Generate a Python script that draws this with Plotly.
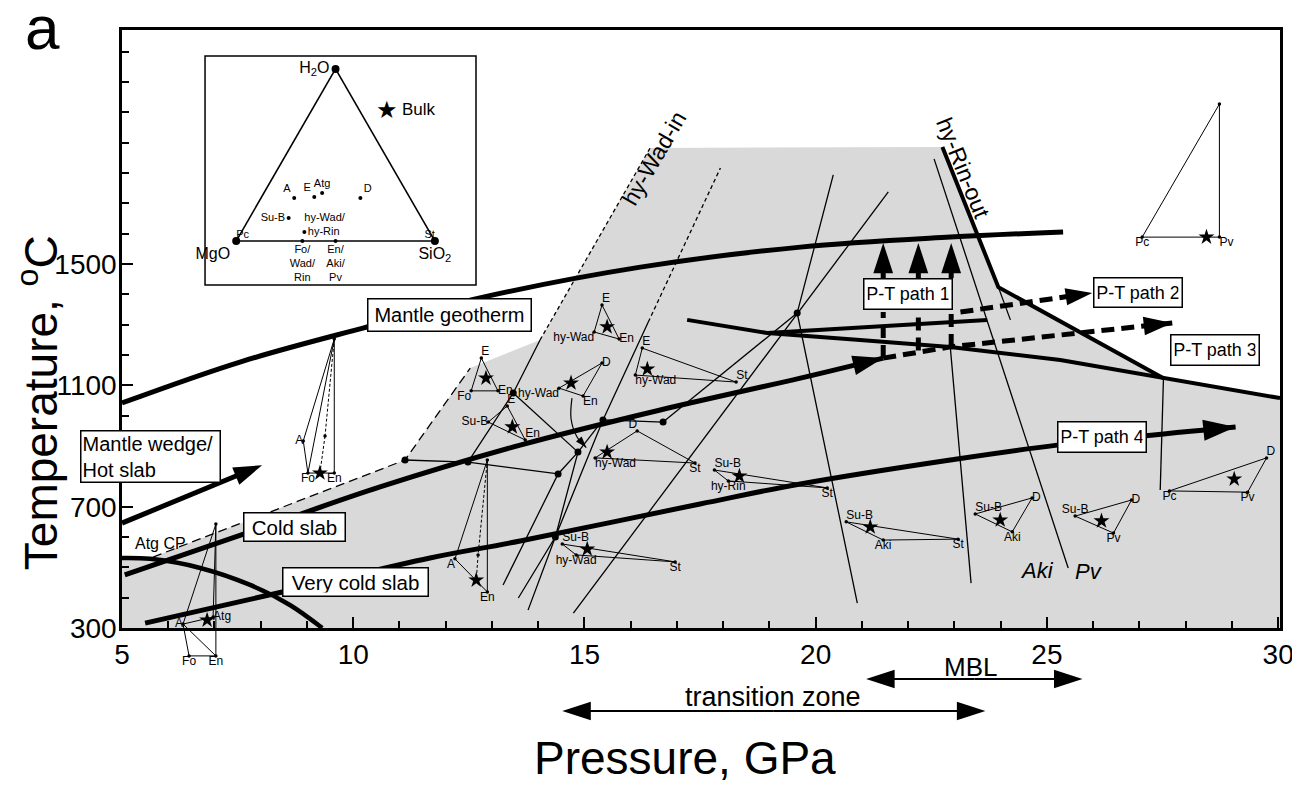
import plotly.graph_objects as go

FONT = "Liberation Sans, Arial, Helvetica, sans-serif"
BLACK = "black"
GRAY = "#d9d9d9"

# ---------------- axes ----------------
P_RANGE = [5.0, 30.04]
T_RANGE = [300.0, 2272.0]
X_TICK0, X_DTICK, X_MINOR = 5, 5, 1
Y_TICKS = [300, 700, 1100, 1500]
Y_MINOR_STEP = 100

# ---------------- grey stability field ----------------
field_P = [5.0, 5.0, 5.67, 11.12, 12.53, 14.04, 16.42, 22.74, 23.95, 27.52, 30.04, 30.04]
field_T = [300, 531, 534, 854, 1157, 1250, 1883, 1886, 1424, 1124, 1058, 300]

# ---------------- thick curves ----------------
geotherm_P = [5.0, 7.55, 10.21, 12.81, 16.21, 19.67, 22.91, 25.35]
geotherm_T = [1042, 1177, 1289, 1391, 1490, 1556, 1589, 1606]
wedge_P = [5.0, 8.03]
wedge_T = [646, 837]
cold_P = [5.06, 7.77, 10.58, 13.61, 16.64, 19.67, 21.46]
cold_T = [475, 617, 765, 903, 1019, 1124, 1190]
vcold_P = [5.50, 8.85, 11.66, 13.61, 17.50, 19.67, 22.91, 25.22, 29.08]
vcold_T = [316, 432, 531, 587, 709, 775, 854, 903, 963]
atgcp_P = [5.0, 5.61, 6.69, 7.77, 8.63, 9.33]
atgcp_T = [531, 528, 498, 442, 376, 300]
lineA_P = [17.22, 18.95, 20.96, 22.91, 25.29, 27.52, 30.04]
lineA_T = [1316, 1273, 1250, 1227, 1184, 1124, 1058]
lineB_P = [18.95, 23.71]
lineB_T = [1273, 1316]
rinout_P = [22.74, 23.95, 27.52]
rinout_T = [1886, 1424, 1124]

# P-T paths
path1_P = [21.46, 22.22, 22.93]
path1_start_T = [1190, 1215, 1227]
path1_box_bottom_T = 1342
path1_box_top_T = 1454
path1_tip_T = 1570
path2_P = [23.13, 25.98]
path2_T = [1342, 1405]
path3_P = [21.46, 22.91, 27.71]
path3_T = [1190, 1227, 1306]

# ---------------- thin phase boundaries ----------------
solid_lines = [
    ([12.48, 13.46, 14.04], [847, 1075, 1250]),
    ([16.38, 15.40, 14.37, 13.78], [1309, 986, 600, 359]),
    ([14.76, 21.57], [349, 1738]),
    ([20.38, 19.60, 20.90], [1794, 1339, 382]),
    ([19.60, 16.70], [1339, 979]),
    ([15.40, 16.70], [986, 979]),
    ([11.12, 12.48, 14.43], [854, 847, 808]),
    ([13.24, 14.43, 14.86], [442, 808, 880]),
    ([13.57, 14.37, 14.86], [399, 600, 880]),
    ([13.46, 14.86], [1075, 880]),
    ([14.86, 15.40], [880, 986]),
    ([22.56, 25.46], [1847, 498]),
    ([22.91, 23.36], [1227, 448]),
    ([23.95, 24.21], [1424, 1316]),
    ([27.52, 27.45], [1124, 755]),
]
atg_dash_P = [5.67, 11.12, 12.53]
atg_dash_T = [534, 854, 1157]
short_dash_lines = [
    ([14.04, 16.42], [1250, 1883]),
    ([16.38, 17.94], [1309, 1817]),
]
inv_P = [11.12, 12.48, 13.46, 14.43, 14.86, 15.40, 16.70, 14.37, 19.60]
inv_T = [854, 847, 1075, 808, 880, 986, 979, 600, 1339]

curl_P = [14.73, 14.71, 14.84, 15.04]
curl_T = [1058, 990, 930, 895]

# ---------------- mini composition diagrams (P, T of vertices) ----------------
mini = [
    dict(ax="y2", pts={"top": (7.03, 643), "A": (6.32, 313), "Fo": (6.45, 208), "En": (7.03, 208), "Atg": (6.97, 336)},
         star=(6.84, 326),
         edges=[("top", "A"), ("top", "Atg"), ("top", "En"), ("A", "Fo"), ("A", "En"), ("Fo", "En"), ("A", "Atg")],
         dashed=[], lab={"A": "middle left", "Atg": "middle right", "Fo": "bottom center", "En": "bottom center"}),
    dict(pts={"top": (9.59, 1253), "A": (8.92, 917), "Fo": (9.02, 811), "En": (9.59, 811), "m": (9.39, 933)},
         star=(9.28, 811),
         edges=[("top", "A"), ("top", "Fo"), ("top", "En"), ("A", "Fo"), ("Fo", "En")],
         dashed=[("top", "m"), ("m", "star")], lab={"A": "middle left", "Fo": "bottom center", "En": "bottom center"}),
    dict(pts={"E": (12.77, 1190), "Fo": (12.55, 1082), "En": (13.13, 1082)}, star=(12.87, 1124),
         lab={"E": "top right", "Fo": "bottom left", "En": "middle right"}),
    dict(pts={"E": (13.33, 1032), "Su-B": (12.92, 979), "En": (13.72, 920)}, star=(13.44, 963),
         lab={"E": "top right", "Su-B": "middle left", "En": "top right"}),
    dict(pts={"E": (15.38, 1365), "hy-Wad": (15.21, 1276), "En": (15.75, 1253)}, star=(15.49, 1293),
         lab={"E": "top right", "hy-Wad": "bottom left", "En": "middle right"}),
    dict(pts={"D": (15.38, 1174), "hy-Wad": (14.45, 1091), "En": (14.97, 1065)}, star=(14.71, 1108),
         lab={"D": "middle right", "hy-Wad": "bottom left", "En": "bottom right"}),
    dict(pts={"E": (16.25, 1223), "hy-Wad": (16.10, 1134), "St": (18.28, 1111)}, star=(16.36, 1154),
         lab={"E": "top right", "hy-Wad": "bottom right", "St": "top right"}),
    dict(pts={"D": (16.14, 950), "hy-Wad": (15.23, 861), "St": (17.39, 844)}, star=(15.49, 880),
         lab={"D": "top left", "hy-Wad": "bottom right", "St": "bottom center"}),
    dict(pts={"Su-B": (17.81, 821), "hy-Rin": (18.11, 785), "St": (20.25, 762)}, star=(18.35, 801),
         lab={"Su-B": "top right", "hy-Rin": "bottom center", "St": "bottom center"}),
    dict(pts={"Su-B": (14.52, 577), "hy-Wad": (14.82, 541), "St": (16.96, 518)}, star=(15.06, 560),
         lab={"Su-B": "top right", "hy-Wad": "bottom center", "St": "bottom center"}),
    dict(pts={"top": (12.90, 854), "A": (12.20, 528), "En": (12.90, 419), "m": (12.70, 541)}, star=(12.66, 458),
         edges=[("top", "A"), ("top", "En"), ("A", "En")],
         dashed=[("top", "m"), ("m", "star")], lab={"A": "bottom left", "En": "bottom center"}),
    dict(pts={"Su-B": (20.66, 650), "Aki": (21.46, 590), "St": (23.08, 593)}, star=(21.18, 633),
         lab={"Su-B": "top right", "Aki": "bottom center", "St": "bottom center"}),
    dict(pts={"Su-B": (23.45, 676), "D": (24.68, 729), "Aki": (24.25, 617)}, star=(23.99, 656),
         lab={"Su-B": "top right", "D": "middle right", "Aki": "bottom center"}),
    dict(pts={"Su-B": (25.61, 669), "D": (26.83, 722), "Pv": (26.44, 613)}, star=(26.18, 653),
         lab={"Su-B": "top center", "D": "middle right", "Pv": "bottom center"}),
    dict(pts={"Pc": (27.65, 752), "D": (29.75, 861), "Pv": (29.34, 748)}, star=(29.05, 791),
         lab={"Pc": "bottom center", "D": "top right", "Pv": "bottom center"}),
    dict(pts={"top": (28.73, 2028), "Pc": (27.06, 1589), "Pv": (28.73, 1589)}, star=(28.45, 1589),
         edges=[("top", "Pc"), ("top", "Pv"), ("Pc", "Pv")],
         dashed=[], lab={"Pc": "bottom center", "Pv": "bottom right"}),
]

# ---------------- ternary inset (H2O, MgO, SiO2 molar fractions) ----------------
tern_names = ["A", "E", "Atg", "D", "Su-B", "hy-Rin", "Fo/<br>Wad/<br>Rin", "En/<br>Aki/<br>Pv"]
tern_H2O = [0.250, 0.256, 0.279, 0.250, 0.134, 0.052, 0.0, 0.0]
tern_MgO = [0.583, 0.479, 0.428, 0.250, 0.669, 0.631, 0.667, 0.500]
tern_SiO2 = [0.167, 0.265, 0.293, 0.500, 0.197, 0.317, 0.333, 0.500]
tern_pos = ["top left", "top left", "top center", "top right", "middle left", "middle right",
            "bottom center", "bottom center"]
# label anchor for the "hy-Wad/" line (same H2O level as Su-B)
hywad_label = "hy-Wad/"
hywad_lab_abc = (0.134, 0.590, 0.276)

# ---------------- labels ----------------
boxes = [
    ("Mantle geotherm", 12.08, 1332, 165, 34, 20, "center"),
    ("Mantle wedge/<br>Hot slab", 5.62, 867, 145, None, 20, "left"),
    ("Cold slab", 8.73, 633, 103, 30, 20.5, "center"),
    ("Very cold slab", 10.05, 452, 147, 30, 20.5, "center"),
    ("P-T path 1", 22.00, 1401, 90, 32, 18, "center"),
    ("P-T path 2", 26.98, 1406, 90, 31, 18, "center"),
    ("P-T path 3", 28.64, 1217, 90, 32, 18, "center"),
    ("P-T path 4", 26.20, 930, 90, 32, 18, "center"),
]
trans_zone = [14.52, 23.67]
mbl = [21.09, 25.77]

# ---------------- layout geometry ----------------
W, H = 1300, 789
BODY = 8  # browser body margin offset compensation
MARG = dict(l=122 - BODY, r=20 + BODY, t=30 - BODY, b=40 + BODY)
plot_h = H - MARG["t"] - MARG["b"]
d0 = 121.0 / plot_h            # bottom of main y domain (room below for under-axis items)
t_span = T_RANGE[1] - T_RANGE[0]
y2_lo = T_RANGE[0] - t_span * d0 / (1 - d0)

fig = go.Figure()


def line(P, T, width, dash=None, head=0, yaxis="y", shape="linear"):
    sizes = [0] * (len(P) - 1) + [head]
    fig.add_trace(go.Scatter(
        x=P, y=T, yaxis=yaxis, mode="lines+markers" if head else "lines",
        line=dict(color=BLACK, width=width, dash=dash, shape=shape),
        marker=dict(symbol="arrow", size=sizes, angleref="previous", color=BLACK, opacity=1,
                    line=dict(width=0)),
        hoverinfo="skip", showlegend=False, cliponaxis=False))


# grey field
fig.add_trace(go.Scatter(x=field_P, y=field_T, fill="toself", fillcolor=GRAY, mode="lines",
                         line=dict(width=0, color=GRAY), hoverinfo="skip", showlegend=False))

# thin lines
for P, T in solid_lines:
    line(P, T, 1.3)
line(atg_dash_P, atg_dash_T, 1.3, dash="9px,5px")
for P, T in short_dash_lines:
    line(P, T, 1.3, dash="4px,3px")
line(curl_P, curl_T, 1.2, head=12, shape="spline")

# mini diagrams
for d in mini:
    ax = d.get("ax", "y")
    pts = dict(d["pts"])
    pts["star"] = d["star"]
    edges = d.get("edges")
    if edges is None:
        nn = list(d["pts"].keys())
        edges = [(nn[0], nn[1]), (nn[1], nn[2]), (nn[2], nn[0])]
    for a, b in edges:
        line([pts[a][0], pts[b][0]], [pts[a][1], pts[b][1]], 1.0, yaxis=ax)
    for a, b in d.get("dashed", []):
        line([pts[a][0], pts[b][0]], [pts[a][1], pts[b][1]], 1.0, dash="3px,2px", yaxis=ax)
    vx = [d["pts"][n][0] for n in d["pts"]]
    vy = [d["pts"][n][1] for n in d["pts"]]
    fig.add_trace(go.Scatter(x=vx, y=vy, yaxis=ax, mode="markers",
                             marker=dict(size=3.5, color=BLACK), hoverinfo="skip", showlegend=False,
                             cliponaxis=False))
    ln = [n for n in d["lab"]]
    fig.add_trace(go.Scatter(x=[d["pts"][n][0] for n in ln], y=[d["pts"][n][1] for n in ln], yaxis=ax,
                             mode="text", text=ln, textposition=[d["lab"][n] for n in ln],
                             textfont=dict(family=FONT, size=12, color=BLACK),
                             hoverinfo="skip", showlegend=False, cliponaxis=False))
    fig.add_trace(go.Scatter(x=[d["star"][0]], y=[d["star"][1]], yaxis=ax, mode="markers",
                             marker=dict(symbol="star", size=12, color=BLACK, line=dict(width=0)),
                             hoverinfo="skip", showlegend=False, cliponaxis=False))

# thick curves
line(atgcp_P, atgcp_T, 4.5, shape="spline")
line(geotherm_P, geotherm_T, 5, shape="spline")
line(lineA_P, lineA_T, 4)
line(lineB_P, lineB_T, 4)
line(rinout_P, rinout_T, 4)
line(wedge_P, wedge_T, 5, head=30)
line(cold_P, cold_T, 5, head=32, shape="spline")
line(vcold_P, vcold_T, 5, head=34, shape="spline")
for p, t0 in zip(path1_P, path1_start_T):
    line([p, p], [t0, path1_box_bottom_T], 5, dash="13px,7px")
    line([p, p], [path1_box_top_T, path1_tip_T], 5, head=32)
line(path2_P, path2_T, 5, dash="13px,7px", head=28)
line(path3_P, path3_T, 5, dash="13px,7px", head=30)

# invariant points
fig.add_trace(go.Scatter(x=inv_P, y=inv_T, mode="markers", marker=dict(size=7, color=BLACK),
                         hoverinfo="skip", showlegend=False))

# under-axis double arrows (band axis y3, 0..1)
for (a, b), yy in ((trans_zone, 0.314), (mbl, 0.579)):
    mid = 0.5 * (a + b)
    line([mid, a], [yy, yy], 2, head=30, yaxis="y3")
    line([mid, b], [yy, yy], 2, head=30, yaxis="y3")

# ternary inset
fig.add_trace(go.Scatterternary(a=[1, 0, 0], b=[0, 1, 0], c=[0, 0, 1], mode="markers+text",
                                text=["H<sub>2</sub>O", "MgO", "SiO<sub>2</sub>"],
                                textposition=["middle left", "bottom left", "bottom center"],
                                textfont=dict(family=FONT, size=16, color=BLACK),
                                marker=dict(size=8, color=BLACK), cliponaxis=False,
                                hoverinfo="skip", showlegend=False))
fig.add_trace(go.Scatterternary(a=[0, 0], b=[1, 0], c=[0, 1], mode="text", text=["Pc", "St"],
                                textposition=["top right", "top left"],
                                textfont=dict(family=FONT, size=11, color=BLACK), cliponaxis=False,
                                hoverinfo="skip", showlegend=False))
fig.add_trace(go.Scatterternary(a=tern_H2O, b=tern_MgO, c=tern_SiO2, mode="markers+text",
                                text=tern_names, textposition=tern_pos,
                                textfont=dict(family=FONT, size=11, color=BLACK),
                                marker=dict(size=4, color=BLACK), cliponaxis=False,
                                hoverinfo="skip", showlegend=False))
fig.add_trace(go.Scatterternary(a=[hywad_lab_abc[0]], b=[hywad_lab_abc[1]], c=[hywad_lab_abc[2]],
                                mode="text", text=[hywad_label], textposition=["middle right"],
                                textfont=dict(family=FONT, size=11, color=BLACK), cliponaxis=False,
                                hoverinfo="skip", showlegend=False))

# annotations
ann = []
for txt_, p, t, w, h, fs, al in boxes:
    a = dict(x=p, y=t, xref="x", yref="y", text=txt_, showarrow=False, align=al,
             xanchor="center", yanchor="middle",
             font=dict(family=FONT, size=fs, color=BLACK), bgcolor="white",
             bordercolor=BLACK, borderwidth=1.5, borderpad=3 if h else 1, width=w - 9)
    if h:
        a["height"] = h - 9
    ann.append(a)


def txt(x, y, s, size, xref="x", yref="y", angle=0):
    ann.append(dict(x=x, y=y, xref=xref, yref=yref, text=s, showarrow=False, textangle=angle,
                    xanchor="center", yanchor="middle",
                    font=dict(family=FONT, size=size, color=BLACK)))


txt(5.83, 580, "Atg CP", 16)
txt(16.51, 1850, "hy-Wad-in", 23, angle=-60)
txt(23.19, 1817, "hy-Rin-out", 23, angle=68)
txt(24.79, 491, "<i>Aki</i>", 22)
txt(25.90, 485, "<i>Pv</i>", 22)
txt(19.08, 0.43, "transition zone", 27, yref="y3")
txt(23.34, 0.678, "MBL", 26, yref="y3")
txt(0.2288, 0.890, "★", 24, xref="paper", yref="paper")
txt(0.2569, 0.890, "Bulk", 17, xref="paper", yref="paper")
txt(-0.069, 1.0035, "a", 62, xref="paper", yref="paper")
txt(0.486, -0.0125, "Pressure, GPa", 46, xref="paper", yref="paper")
txt(-0.0725, 0.481, "Temperature, <sup>o</sup>C", 46, xref="paper", yref="paper", angle=-90)

tick_font = dict(family=FONT, size=28, color=BLACK)
axis_common = dict(showline=True, linewidth=2.5, linecolor=BLACK, mirror=True, ticks="inside",
                   ticklen=11, tickwidth=2, tickcolor=BLACK, showgrid=False, zeroline=False,
                   tickfont=tick_font)

y_minor_vals = [v for v in range(int(T_RANGE[0]) + Y_MINOR_STEP, int(T_RANGE[1]), Y_MINOR_STEP)
                if v not in Y_TICKS]

tern_ax = dict(showline=True, linecolor=BLACK, linewidth=1.6, showgrid=False, ticks="",
               showticklabels=False, title=dict(text=""))

fig.update_layout(
    width=W, height=H, margin=MARG, paper_bgcolor="white", plot_bgcolor="rgba(0,0,0,0)",
    showlegend=False, font=dict(family=FONT, color=BLACK),
    xaxis=dict(range=P_RANGE, domain=[0, 1], anchor="y", tick0=X_TICK0, dtick=X_DTICK,
               minor=dict(dtick=X_MINOR, ticks="inside", ticklen=7, tickwidth=1.5, tickcolor=BLACK),
               ticklabelstandoff=0, **axis_common),
    yaxis=dict(range=T_RANGE, domain=[d0, 1], anchor="x", tickmode="array", tickvals=Y_TICKS,
               ticktext=[str(v) for v in Y_TICKS],
               minor=dict(tickmode="array", tickvals=y_minor_vals, ticks="inside", ticklen=7,
                          tickwidth=1.5, tickcolor=BLACK),
               ticklabelstandoff=-3, **axis_common),
    yaxis2=dict(range=[y2_lo, T_RANGE[1]], domain=[0, 1], anchor="x", visible=False),
    yaxis3=dict(range=[0, 1], domain=[0, d0], anchor="x", visible=False),
    ternary=dict(domain=dict(x=[0.0976, 0.2712], y=[0.7065, 0.9458]), sum=1,
                 bgcolor="rgba(0,0,0,0)", aaxis=tern_ax, baxis=tern_ax, caxis=tern_ax),
    annotations=ann,
    shapes=[dict(type="rect", xref="paper", yref="paper", x0=0.0717, x1=0.3057, y0=0.6453, y1=0.9638,
                 line=dict(color=BLACK, width=1.5), layer="above")],
)

fig.write_html("out.html")
